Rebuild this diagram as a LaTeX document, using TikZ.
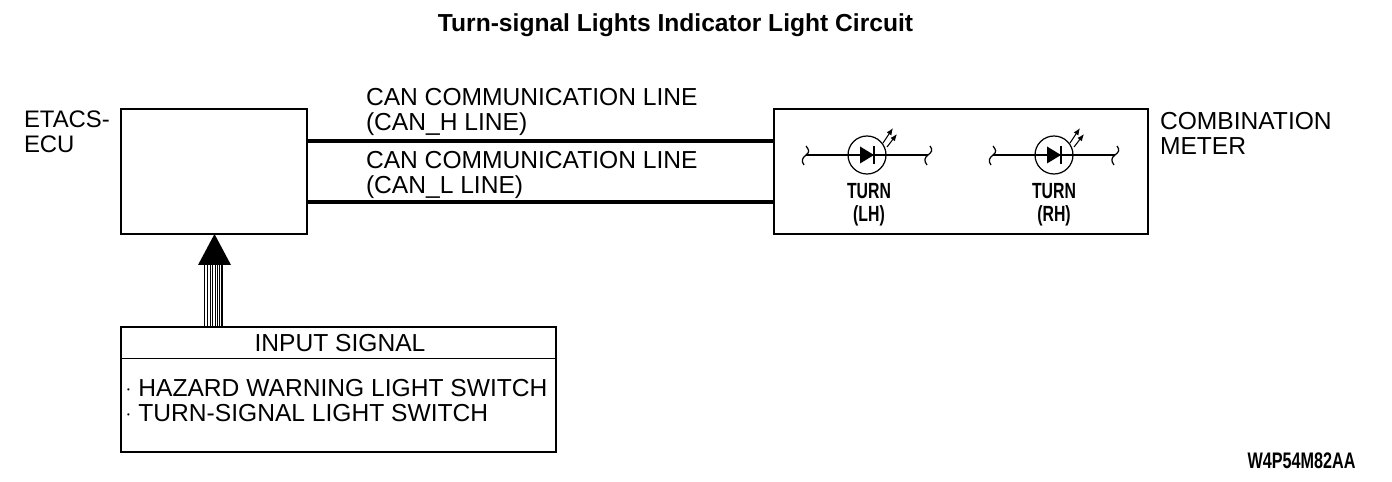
\documentclass[tikz,border=0pt]{standalone}
\usepackage{fontspec}
\setmainfont{Liberation Sans}
\newfontfamily\narrowfont[FakeStretch=0.72]{Liberation Sans}
\usetikzlibrary{positioning}
\usetikzlibrary{calc}
\usetikzlibrary{arrows.meta}
\tikzstyle{block}=[draw,line width=0.8pt,inner sep=0,outer sep=0,anchor=north west]
\tikzstyle{lbl}=[inner sep=0,outer sep=0,anchor=north west,align=left,font=\fontsize{14}{14.2}\selectfont]
\tikzstyle{small}=[inner sep=0,outer sep=0,align=center,font=\fontsize{12.5}{13}\selectfont\bfseries\narrowfont]
\tikzstyle{bus}=[line width=2.3pt]
\tikzstyle{wire}=[line width=0.7pt]
\tikzset{>=latex}
% lamp symbol with its wire ends, #1 = centre name
\def\lamp#1{
  \draw[wire] (#1) circle (19);
  \draw[wire] ($(#1)+(-61,0)$) -- ($(#1)+(61,0)$);
  \fill ($(#1)+(-7,-8.5)$) -- ($(#1)+(7,0)$) -- ($(#1)+(-7,8.5)$) -- cycle;
  \draw[wire] ($(#1)+(7,-9)$) -- ($(#1)+(7,9)$);
  \draw[line width=0.6pt,-{Latex[length=4pt,width=3.2pt]}] ($(#1)+(16,-12)$) -- ($(#1)+(26,-27)$);
  \draw[line width=0.6pt,-{Latex[length=4pt,width=3.2pt]}] ($(#1)+(20,-8)$) -- ($(#1)+(30,-21)$);
  \draw[wire] ($(#1)+(-61,-9)$) .. controls +(3,4) and +(4,-3) .. ($(#1)+(-61,0)$) .. controls +(-4,3) and +(-3,-4) .. ($(#1)+(-63,10)$);
  \draw[wire] ($(#1)+(63,-9)$) .. controls +(3,4) and +(4,-3) .. ($(#1)+(61,0)$) .. controls +(-4,3) and +(-3,-4) .. ($(#1)+(60,10)$);
}
\def\dotmark{\raisebox{2.2pt}{\fontsize{4.5}{5}\selectfont\textbullet}}
\begin{document}
\begin{tikzpicture}[x=0.02cm,y=-0.02cm]
  \useasboundingbox (0,0) rectangle (1392,482);

  % TITLE
  \node[inner sep=0,font=\fontsize{14}{16}\selectfont\bfseries] (title) at (675.5,25) {Turn-signal Lights Indicator Light Circuit};

  % BLOCKS
  \node[block,minimum width=3.72cm,minimum height=2.5cm] (etacs) at (121,109) {};
  \node[block,minimum width=7.48cm,minimum height=2.5cm] (meter) at (774,109) {};
  \node[block,minimum width=8.7cm,minimum height=2.5cm] (input) at (121,327) {};
  \draw[line width=0.45pt] (input.north west)++(0,31) coordinate (divL) -- (divL -| input.east);
  \node[lbl,font=\fontsize{13.6}{14.2}\selectfont] (etacslbl) at (24,111) {ETACS-\\ECU};
  \node[lbl] (meterlbl) at (1160,112) {COMBINATION\\METER};
  \node[inner sep=0,font=\fontsize{14}{16}\selectfont] (inputlbl) at (340,343) {INPUT SIGNAL};
  \node[lbl] (inputlist) at (127,379) {\dotmark\hspace{4.9pt}HAZARD WARNING LIGHT SWITCH\\\dotmark\hspace{4.9pt}TURN-SIGNAL LIGHT SWITCH};

  % CAN LINES
  \coordinate (hL) at (etacs.east |- 0,141);
  \coordinate (lL) at (etacs.east |- 0,202);
  \draw[bus] (hL) -- (hL -| meter.west);
  \draw[bus] (lL) -- (lL -| meter.west);
  \node[lbl] (canh) at (366,88) {CAN COMMUNICATION LINE\\(CAN\_H LINE)};
  \node[lbl] (canl) at (366,151) {CAN COMMUNICATION LINE\\(CAN\_L LINE)};

  % ARROW
  \foreach \s in {204.5,207.5,210,212.5,215,217,219,221,222.5}
    \draw[line width=0.55pt] (\s,265) -- (\s,327);
  \fill (214.5,234) -- (231,265) -- (198,265) -- cycle;

  % LAMPS
  \coordinate (lh) at (867,155);
  \coordinate (rh) at (1054,155);
  \lamp{lh}
  \lamp{rh}
  \node[small] (lhlbl) at (869,205) {TURN\\(LH)};
  \node[small] (rhlbl) at (1054,205) {TURN\\(RH)};

  \node[inner sep=0,font=\fontsize{12.8}{14}\selectfont\bfseries\narrowfont] (code) at (1301.5,461) {W4P54M82AA};
\end{tikzpicture}
\end{document}
